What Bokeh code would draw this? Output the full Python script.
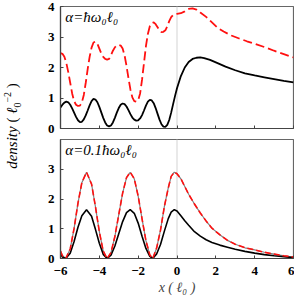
from bokeh.plotting import figure
from bokeh.layouts import column, row
from bokeh.models import Range1d, FixedTicker, Span, Label, Div
from bokeh.embed import file_html
from bokeh.resources import INLINE

# ---------------- data ----------------
# top panel: alpha = hbar*omega0*l0
top_x_black = [-6.0, -5.9, -5.8, -5.7, -5.6, -5.5, -5.4, -5.3, -5.2, -5.1, -5.0, -4.9, -4.8, -4.7,
               -4.6, -4.5, -4.4, -4.3, -4.2, -4.1, -4.0, -3.9, -3.8, -3.7, -3.6, -3.5, -3.4, -3.3,
               -3.2, -3.1, -3.0, -2.9, -2.8, -2.7, -2.6, -2.5, -2.4, -2.3, -2.2, -2.1, -2.0, -1.9,
               -1.8, -1.7, -1.6, -1.5, -1.4, -1.3, -1.2, -1.1, -1.0, -0.9, -0.8, -0.7, -0.6, -0.5,
               -0.4, -0.3, -0.2, -0.1, 0.0, 0.2, 0.4, 0.6, 0.8, 1.0, 1.2, 1.4, 1.7, 2.0, 2.5, 3.0,
               3.5, 4.0, 4.5, 5.0, 5.5, 6.0]
top_y_black = [0.69, 0.78, 0.85, 0.88, 0.86, 0.78, 0.66, 0.52, 0.38, 0.27, 0.21, 0.22, 0.30, 0.43,
               0.59, 0.76, 0.90, 0.97, 0.95, 0.86, 0.71, 0.53, 0.35, 0.20, 0.10, 0.07, 0.10, 0.20,
               0.35, 0.52, 0.67, 0.78, 0.82, 0.80, 0.72, 0.60, 0.47, 0.36, 0.29, 0.26, 0.27, 0.33,
               0.44, 0.59, 0.75, 0.88, 0.94, 0.92, 0.83, 0.67, 0.48, 0.29, 0.14, 0.06, 0.05, 0.12,
               0.28, 0.52, 0.80, 1.07, 1.32, 1.72, 2.00, 2.18, 2.28, 2.32, 2.33, 2.31, 2.25, 2.17,
               2.03, 1.91, 1.81, 1.74, 1.68, 1.62, 1.56, 1.51]

top_x_red = [-6.0, -5.9, -5.8, -5.7, -5.6, -5.5, -5.4, -5.3, -5.2, -5.1, -5.0, -4.9, -4.8, -4.7,
             -4.6, -4.5, -4.4, -4.3, -4.2, -4.1, -4.0, -3.9, -3.8, -3.7, -3.6, -3.5, -3.4, -3.3,
             -3.2, -3.1, -3.0, -2.9, -2.8, -2.7, -2.6, -2.5, -2.4, -2.3, -2.2, -2.1, -2.0, -1.9,
             -1.8, -1.7, -1.6, -1.5, -1.4, -1.3, -1.2, -1.1, -1.0, -0.9, -0.8, -0.7, -0.6, -0.5,
             -0.4, -0.3, -0.2, -0.1, 0.0, 0.2, 0.4, 0.6, 0.8, 1.0, 1.2, 1.5, 1.8, 2.1, 2.4, 2.8,
             3.2, 3.6, 4.0, 4.5, 5.0, 5.5, 6.0]
top_y_red = [2.47, 2.45, 2.35, 2.15, 1.85, 1.50, 1.15, 0.90, 0.78, 0.74, 0.75, 0.85, 1.10, 1.50,
             1.95, 2.35, 2.65, 2.82, 2.85, 2.78, 2.62, 2.46, 2.35, 2.28, 2.26, 2.28, 2.40, 2.55,
             2.66, 2.72, 2.74, 2.72, 2.62, 2.40, 2.05, 1.65, 1.28, 1.02, 0.90, 0.88, 0.92, 1.15,
             1.60, 2.15, 2.70, 3.10, 3.35, 3.45, 3.48, 3.42, 3.32, 3.22, 3.16, 3.17, 3.22, 3.35,
             3.52, 3.65, 3.72, 3.75, 3.76, 3.78, 3.84, 3.92, 3.94, 3.90, 3.80, 3.66, 3.48, 3.30,
             3.18, 3.05, 2.95, 2.86, 2.78, 2.67, 2.55, 2.44, 2.33]

# bottom panel: alpha = 0.1*hbar*omega0*l0
bot_x = [-6.0, -5.9, -5.73, -5.5, -5.3, -5.1, -4.9, -4.66, -4.4, -4.2, -4.0, -3.8, -3.6, -3.4,
         -3.2, -3.0, -2.8, -2.6, -2.41, -2.2, -2.0, -1.8, -1.6, -1.4, -1.25, -1.05, -0.85, -0.65,
         -0.45, -0.3, -0.14, 0.0, 0.2, 0.4, 0.6, 0.9, 1.2, 1.5, 1.8, 2.2, 2.6, 3.0, 3.5, 4.0,
         4.5, 5.0, 5.5, 6.0]
bot_y_black = [0.16, 0.05, 0.0, 0.18, 0.57, 1.05, 1.44, 1.64, 1.42, 0.98, 0.51, 0.14, 0.0, 0.11,
               0.42, 0.83, 1.24, 1.54, 1.64, 1.52, 1.19, 0.75, 0.34, 0.07, 0.0, 0.15, 0.47, 0.92,
               1.34, 1.56, 1.64, 1.60, 1.44, 1.27, 1.12, 0.90, 0.75, 0.63, 0.54, 0.45, 0.38, 0.31,
               0.24, 0.18, 0.13, 0.09, 0.06, 0.03]
bot_y_red = [0.25, 0.09, 0.0, 0.32, 1.01, 1.86, 2.55, 2.90, 2.50, 1.74, 0.90, 0.25, 0.0, 0.20,
             0.74, 1.47, 2.20, 2.72, 2.90, 2.68, 2.10, 1.33, 0.60, 0.12, 0.0, 0.35, 0.95, 1.75,
             2.37, 2.76, 2.90, 2.85, 2.68, 2.42, 2.16, 1.83, 1.53, 1.26, 1.02, 0.80, 0.61, 0.48,
             0.36, 0.29, 0.21, 0.15, 0.09, 0.05]

x_ticks = [-6, -4, -2, 0, 2, 4, 6]
top_y_ticks = [0, 1, 2, 3, 4]
bot_y_ticks = [0, 1, 2, 3]
top_note = "α=ħω₀ℓ₀"
bot_note = "α=0.1ħω₀ℓ₀"

FONT = "Liberation Serif"


def make_panel(height, border_top, border_bottom, yticks):
    p = figure(width=264, height=height, output_backend="svg", toolbar_location=None,
               x_range=Range1d(-6, 6), y_range=Range1d(0, 4),
               min_border_left=30, min_border_right=1,
               min_border_top=border_top, min_border_bottom=border_bottom)
    p.grid.visible = False
    p.outline_line_color = "#666666"
    p.outline_line_width = 1.2
    p.background_fill_color = "white"
    p.border_fill_color = "white"
    for ax in (p.xaxis[0], p.yaxis[0]):
        ax.axis_line_color = "#444444"
        ax.axis_line_width = 1.2
        ax.major_tick_in = 3
        ax.major_tick_out = 0
        ax.minor_tick_in = 3
        ax.minor_tick_out = 0
        ax.major_tick_line_color = "#444444"
        ax.minor_tick_line_color = "#444444"
        ax.major_label_text_font = FONT
        ax.major_label_text_font_style = "bold"
        ax.major_label_text_font_size = "13px"
        ax.major_label_text_color = "black"
    p.yaxis.ticker = FixedTicker(ticks=yticks)
    p.yaxis.major_label_standoff = 6
    p.add_layout(Span(location=0, dimension="height", line_color="#e2e2e2",
                      line_width=1.5, level="underlay"))
    return p


# top panel (x ticks without labels)
p1 = make_panel(136, 6, 8, top_y_ticks)
p1.xaxis.ticker = FixedTicker(ticks=[], minor_ticks=x_ticks)
p1.xaxis.major_label_standoff = 0
p1.line(top_x_black, top_y_black, line_color="black", line_width=1.8)
p1.line(top_x_red, top_y_red, line_color="#ff1010", line_width=1.8, line_dash="9 4")
p1.add_layout(Label(x=-5.75, y=3.92, text=top_note, text_font=FONT,
                    text_font_style="italic", text_font_size="15px",
                    text_baseline="top", text_color="black"))

# bottom panel
p2 = make_panel(163, 3, 41, bot_y_ticks)
p2.xaxis.ticker = FixedTicker(ticks=x_ticks)
p2.xaxis.major_label_standoff = 8
p2.xaxis.axis_label = "x ( ℓ₀ )"
p2.xaxis.axis_label_text_font = FONT
p2.xaxis.axis_label_text_font_style = "italic"
p2.xaxis.axis_label_text_font_size = "14px"
p2.xaxis.axis_label_standoff = 2
p2.line(bot_x, bot_y_red, line_color="#808080", line_width=1.2)
p2.line(bot_x, bot_y_black, line_color="black", line_width=1.6)
p2.line(bot_x, bot_y_red, line_color="#ff1010", line_width=1.6, line_dash="6 3")
p2.add_layout(Label(x=-5.75, y=3.92, text=bot_note, text_font=FONT,
                    text_font_style="italic", text_font_size="15px",
                    text_baseline="top", text_color="black"))

ylabel = Div(
    text=("<div style=\"position:absolute; left:8px; top:121px; "
          "transform: translate(-50%, -50%) rotate(-90deg); white-space:nowrap; "
          "font-family:'Liberation Serif'; font-size:15px; color:black;\">"
          "<i>density</i> ( <i>ℓ</i><sub style='font-size:10px'>0</sub>"
          "<sup style='font-size:10px'>−2</sup> )</div>"),
    width=20, height=290, styles={"position": "relative"})

layout = row(ylabel, column(p1, p2, spacing=0), spacing=0)

open("out.html", "w").write(file_html(layout, INLINE))
